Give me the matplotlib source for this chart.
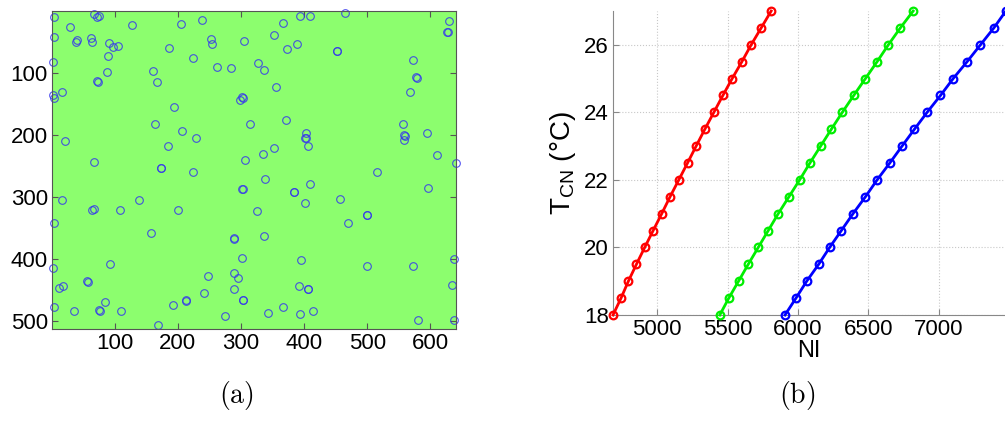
import matplotlib
matplotlib.use("Agg")
import matplotlib.pyplot as plt
import numpy as np

plt.rcParams['font.family'] = ['Liberation Sans', 'DejaVu Sans']
plt.rcParams['mathtext.fontset'] = 'custom'
plt.rcParams['mathtext.rm'] = 'Liberation Sans'

# ---------------- data: panel (a) detected points (image coords) ----------------
pts_x = [4.2, 67.8, 71.5, 75.7, 29.7, 127.6, 204.4, 238.9, 4.2, 39.7, 38.7, 63.0, 64.6,
         90.6, 96.9, 105.4, 89.0, 87.9, 72.0, 73.0, 1.6, 2.6, 3.7, 15.9, 185.4, 224.6,
         161.0, 166.3, 193.9, 261.7, 283.4, 251.6, 253.7, 304.6, 326.3, 335.8, 355.4,
         352.2, 366.5, 393.5, 409.4, 465.0, 372.9, 388.3, 451.3, 452.3, 301.9, 302.9,
         297.7, 371.3, 314.1, 628.7, 626.6, 627.4, 572.6, 577.3, 578.3, 567.8, 21.2,
         67.3, 164.2, 207.1, 228.3, 184.3, 172.7, 173.7, 224.1, 306.1, 335.3, 352.2,
         403.6, 402.0, 403.0, 405.7, 556.7, 558.3, 559.1, 558.3, 594.8, 610.2, 640.4,
         514.8, 596.9, 301.9, 302.9, 383.5, 384.5, 337.4, 409.4, 456.0, 401.5, 324.7,
         499.5, 500.3, 468.8, 15.9, 3.7, 63.6, 67.8, 107.5, 138.2, 199.7, 156.8, 288.7,
         289.6, 335.8, 300.8, 395.7, 499.5, 572.6, 637.7, 634.0, 637.7, 581.0, 1.6,
         11.7, 18.0, 56.7, 57.5, 92.2, 4.2, 36.0, 75.7, 76.6, 83.7, 109.1, 168.4, 192.3,
         212.4, 213.2, 240.5, 248.4, 288.7, 295.6, 288.7, 303.0, 303.8, 274.4, 343.2,
         366.5, 391.9, 405.7, 406.5, 394.1, 413.7]
pts_y = [10.6, 5.2, 9.5, 7.9, 25.5, 22.3, 20.7, 14.8, 42.7, 46.4, 50.7, 43.8, 50.7,
         51.8, 57.7, 56.6, 72.7, 98.9, 113.9, 114.6, 83.4, 135.9, 140.7, 130.5, 60.4,
         75.9, 97.3, 114.5, 155.2, 90.9, 93.0, 44.8, 53.9, 48.0, 83.9, 95.7, 123.6,
         39.5, 20.2, 9.0, 7.9, 3.1, 62.0, 52.9, 64.7, 65.4, 139.1, 139.8, 143.4, 175.5,
         182.5, 17.0, 33.6, 34.4, 78.6, 106.9, 107.7, 130.5, 210.3, 244.1, 182.5,
         194.3, 204.4, 217.3, 253.2, 254.0, 260.1, 240.3, 230.7, 220.5, 196.9, 204.4,
         205.2, 218.4, 182.5, 200.7, 201.5, 208.7, 196.4, 232.3, 245.2, 260.1, 285.3,
         286.9, 287.7, 291.2, 292.0, 270.3, 279.4, 302.5, 310.0, 322.8, 328.2, 329.0,
         342.1, 304.6, 342.6, 321.7, 319.6, 320.7, 305.1, 320.7, 358.7, 366.3, 367.1,
         363.0, 398.9, 401.7, 410.7, 410.7, 399.4, 441.7, 497.9, 497.9, 413.9, 446.6,
         442.8, 435.3, 436.1, 408.0, 477.6, 483.0, 482.4, 483.2, 469.0, 483.0, 506.0,
         473.9, 466.4, 467.2, 454.1, 427.8, 423.0, 431.0, 448.7, 465.3, 466.1, 491.5,
         486.7, 476.5, 442.8, 447.6, 448.4, 488.3, 483.5]
img_w, img_h = 640, 512
a_xticks = [100, 200, 300, 400, 500, 600]
a_yticks = [100, 200, 300, 400, 500]

# ---------------- data: panel (b) ----------------
t_cn = [18, 18.5, 19, 19.5, 20, 20.5, 21, 21.5, 22, 22.5, 23, 23.5, 24, 24.5, 25,
        25.5, 26, 26.5, 27]
ni_red = [4687, 4744, 4796, 4853, 4912, 4972, 5033, 5092, 5154, 5216, 5277, 5339,
          5403, 5467, 5533, 5602, 5668, 5739, 5810]
ni_green = [5445, 5509, 5578, 5647, 5718, 5789, 5860, 5936, 6012, 6085, 6161, 6237,
            6315, 6396, 6479, 6562, 6642, 6727, 6818]
ni_blue = [5908, 5986, 6062, 6147, 6225, 6308, 6391, 6479, 6562, 6652, 6739, 6827,
           6917, 7012, 7102, 7201, 7296, 7391, 7476]
b_xticks = [5000, 5500, 6000, 6500, 7000]
b_yticks = [18, 20, 22, 24, 26]

fig = plt.figure(figsize=(10.05, 4.21), dpi=100)

# ---- panel (a)
ax1 = fig.add_axes([52/1005, 1-329/421, 404/1005, 318/421])
ax1.set_facecolor('#8cfe6e')
ax1.plot(pts_x, pts_y, 'o', ms=5.5, mfc='none', mec='#3535ee', mew=0.8, alpha=0.85,
         clip_on=False)
ax1.set_xlim(0.5, img_w + 0.5)
ax1.set_ylim(img_h + 0.5, 0.5)
ax1.set_xticks(a_xticks)
ax1.set_yticks(a_yticks)
ax1.tick_params(direction='in', length=4, top=True, right=True, labelsize=16,
                color='#555555', width=0.8, pad=3)
for s in ax1.spines.values():
    s.set_color('#555555')
    s.set_linewidth(0.8)

# ---- panel (b)
ax2 = fig.add_axes([613/1005, 1-315/421, 392/1005, 304/421])
for ni, col in [(ni_red, '#ff0000'), (ni_green, '#00ee00'), (ni_blue, '#0000ff')]:
    ax2.plot(ni, t_cn, '-o', color=col, lw=2, ms=5.5, mfc='none', mew=1.6,
             clip_on=False, zorder=3)
ax2.set_xlim(min(ni_red), max(ni_blue) - 6)
ax2.set_ylim(min(t_cn), max(t_cn))
ax2.set_xticks(b_xticks)
ax2.set_yticks(b_yticks)
ax2.grid(True, ls=':', color='#c8c8c8', lw=0.8)
ax2.spines['top'].set_visible(False)
ax2.spines['right'].set_visible(False)
for s in ['left', 'bottom']:
    ax2.spines[s].set_color('#888888')
    ax2.spines[s].set_linewidth(0.8)
ax2.tick_params(direction='in', length=4, labelsize=16, color='#888888', pad=3)
ax2.set_xlabel('NI', fontsize=17, labelpad=0)
ax2.set_ylabel('T$_\\mathregular{CN}$ (°C)', fontsize=20, labelpad=4)

# captions
fig.text(236/1005, 1-396/421, r'$\mathrm{(a)}$', math_fontfamily='cm', fontsize=20,
         ha='center', va='center')
fig.text(797/1005, 1-396/421, r'$\mathrm{(b)}$', math_fontfamily='cm', fontsize=20,
         ha='center', va='center')

fig.savefig('out.png', dpi=100)
